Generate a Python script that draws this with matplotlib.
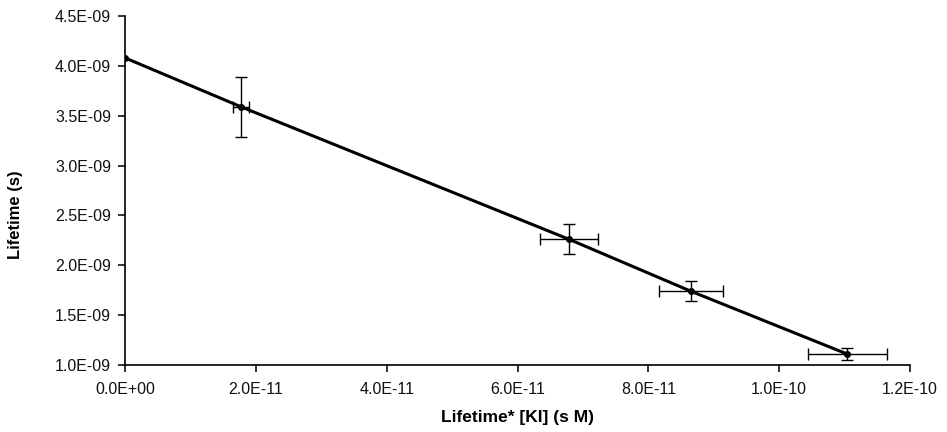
import matplotlib.pyplot as plt
from matplotlib.ticker import FuncFormatter

plt.rcParams['font.family'] = ['Liberation Sans', 'DejaVu Sans']

# DATA ------------------------------------------------------
x_vals = [0.0, 1.77e-11, 6.79e-11, 8.65e-11, 1.104e-10]
y_vals = [4.08e-9, 3.59e-9, 2.26e-9, 1.74e-9, 1.11e-9]
x_err = [0.0, 1.2e-12, 4.4e-12, 4.9e-12, 6.0e-12]
y_err = [0.0, 0.30e-9, 0.15e-9, 0.10e-9, 0.06e-9]

fig = plt.figure(figsize=(9.47, 4.32), dpi=100)
ax = fig.add_axes([0.132, 0.155, 0.829, 0.808])

ax.plot(x_vals, y_vals, color="black", linewidth=2.2, marker="o", markersize=4)
ax.errorbar(x_vals[1:], y_vals[1:], xerr=x_err[1:], yerr=y_err[1:], fmt="none",
            ecolor="black", elinewidth=1.0, capsize=4, capthick=1.0)

ax.set_xlim(0, 1.2e-10)
ax.set_ylim(1.0e-9, 4.5e-9)
ax.set_xticks([i * 2e-11 for i in range(7)])
ax.set_yticks([1.0e-9 + i * 0.5e-9 for i in range(8)])
fmt = FuncFormatter(lambda v, p: "%.1E" % v)
ax.xaxis.set_major_formatter(fmt)
ax.yaxis.set_major_formatter(fmt)
ax.xaxis.get_offset_text().set_visible(False)
ax.yaxis.get_offset_text().set_visible(False)

ax.spines["top"].set_visible(False)
ax.spines["right"].set_visible(False)
ax.spines["left"].set_linewidth(1.2)
ax.spines["bottom"].set_linewidth(1.2)
ax.tick_params(direction="out", length=5, width=1.2, labelsize=11.5, colors="#111111")
ax.tick_params(axis="x", pad=7)
ax.tick_params(axis="y", pad=5)

ax.set_xlabel("Lifetime* [KI] (s M)", fontsize=12.5, fontweight="bold")
ax.set_ylabel("Lifetime (s)", fontsize=12, fontweight="bold")
ax.xaxis.set_label_coords(0.5, -0.13)
ax.yaxis.set_label_coords(-0.13, 0.43)

fig.savefig("out.png", dpi=100)
